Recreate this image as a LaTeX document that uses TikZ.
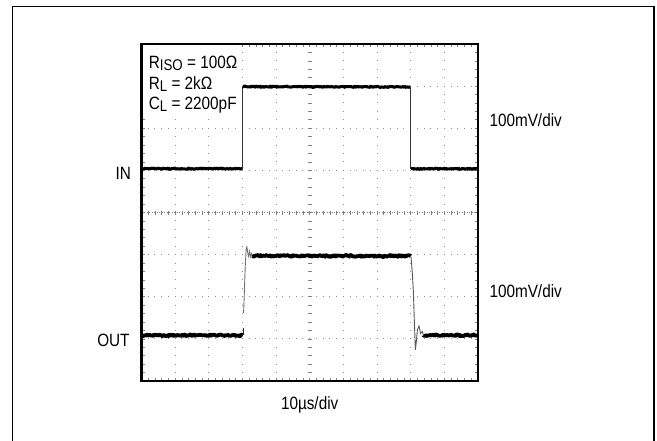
\documentclass[tikz,border=0pt]{standalone}
\usepackage{fontspec}
\setmainfont{Liberation Sans}[FakeStretch=0.86]
\usetikzlibrary{decorations.pathmorphing}
\begin{document}
\begin{tikzpicture}[x=1pt,y=-1pt,
  griddot/.style={line width=0.9pt, black!45},
  gridc/.style={line width=0.7pt, black!50},
  noisyin/.style={line width=3pt, line join=round, decorate, decoration={random steps, segment length=0.8pt, amplitude=0.6pt}},
  noisyout/.style={line width=3.8pt, line join=round, decorate, decoration={random steps, segment length=0.8pt, amplitude=0.9pt}},
  edgeline/.style={line width=0.9pt, black!80},
  lbl/.style={inner sep=0pt, font=\fontsize{17.8}{20}\selectfont}]
\useasboundingbox (0,0) rectangle (657,440);
\fill[white] (0,0) rectangle (657,440);
\draw[line width=1.3pt] (12.3,6.3) rectangle (654,470);
% grid
\foreach \k in {1,2,3,4,6,7,8,9}
  \draw[griddot, dash pattern=on 1pt off 7.425pt] ({141.5+\k*33.65},51.9) -- ({141.5+\k*33.65},381);
\foreach \j in {1,2,3,5,6,7}
  \draw[griddot, dash pattern=on 1pt off 5.73pt] (147.7,{44+\j*42.125}) -- (478,{44+\j*42.125});
\foreach \j in {1,...,39}
  \draw[gridc] (308.2,{44+\j*8.425}) -- (312.2,{44+\j*8.425});
\draw[gridc, dash pattern=on 1.2pt off 1.3pt] (141.5,212.6) -- (478,212.6);
\foreach \i in {1,...,49}
  \draw[gridc] ({141.5+\i*6.73},210.6) -- ++(0,4);
\foreach \i in {1,...,49} {
  \draw[gridc] ({141.5+\i*6.73},44) -- ++(0,3);
  \draw[gridc] ({141.5+\i*6.73},381) -- ++(0,-3);
}
\foreach \j in {1,...,39} {
  \draw[gridc] (141.5,{44+\j*8.425}) -- ++(3,0);
  \draw[gridc] (478,{44+\j*8.425}) -- ++(-3,0);
}
% label background
\fill[white] (142.8,45.3) rectangle (241,117);
% IN trace
\pgfmathsetseed{7}
\draw[noisyin] (141.5,168.7) -- (242.3,168.7);
\draw[edgeline] (242.7,168.7) -- (242.7,86.7);
\draw[noisyin] (243,86.7) -- (410.3,86.9);
\draw[edgeline] (410.6,86.7) -- (410.6,168.8);
\draw[noisyin] (411,168.8) -- (477,168.8);
% OUT trace
\draw[noisyout] (141.5,335.3) -- (242.8,335.3);
\draw[edgeline] (243.1,335) -- (243.1,328);
\draw[edgeline, black!55] (243.6,313) -- (245.3,265) -- (246.2,249) -- (246.9,246.8) -- (247.8,253) -- (248.7,256.5) -- (249.6,251.5) -- (250.6,256.8) -- (251.6,253.5) -- (252.5,255.8);
\draw[noisyout] (252.5,255.8) -- (410.8,256);
\draw[edgeline, black!65] (411,256.5) -- (412.3,273) -- (413.4,292) -- (414.4,323) -- (415.4,350) -- (416.4,341) -- (417.4,330) -- (419,326) -- (420.6,333.5) -- (422.3,331.5) -- (423.5,335.3);
\draw[noisyout] (423.5,335.3) -- (477,335.3);
% scope border
\draw[line width=2.6pt] (141.5,44) rectangle (478,381);
% labels
\node[lbl, anchor=base west] (riso) at (148.6,68.3) {R\raisebox{-2.4pt}{\fontsize{15.5}{15}\selectfont ISO} = 100Ω};
\node[lbl, anchor=base west] (rl) at (148.6,89) {R\raisebox{-2.4pt}{\fontsize{15.5}{15}\selectfont L} = 2kΩ};
\node[lbl, anchor=base west] (cl) at (148.6,109.5) {C\raisebox{-2.4pt}{\fontsize{15.5}{15}\selectfont L} = 2200pF};
\node[lbl, anchor=base east] (in) at (131.2,179.5) {IN};
\node[lbl, anchor=base east] (out) at (129.8,346) {OUT};
\node[lbl, anchor=base west] (div1) at (489.3,126) {100mV/div};
\node[lbl, anchor=base west] (div2) at (489.3,297.7) {100mV/div};
\node[lbl, anchor=base west] (time) at (280.8,409) {10µs/div};
\end{tikzpicture}
\end{document}
